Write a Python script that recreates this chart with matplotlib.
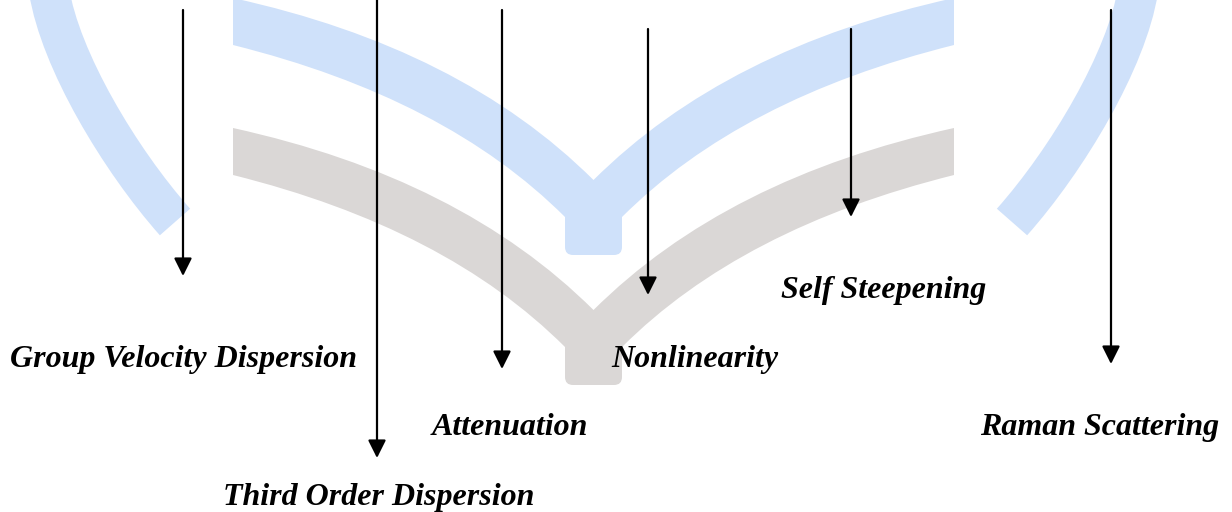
import matplotlib
matplotlib.use("Agg")
import matplotlib.pyplot as plt
from matplotlib.path import Path
from matplotlib.patches import PathPatch

# effects and arrows (pixel coordinates, y grows downwards)
labels = ["Group Velocity Dispersion", "Third Order Dispersion", "Attenuation",
          "Nonlinearity", "Self Steepening", "Raman Scattering"]
arrow_x = [183, 377, 502, 648, 851, 1111]
arrow_top = [10, -5, 10, 29, 29, 10]
arrow_tip = [276, 458, 369, 295, 217, 364]
label_x = [183, 379, 510, 695, 884, 1100]
label_y = [367, 505, 435, 367, 298, 435]

W, H = 1232, 512
fig = plt.figure(figsize=(W / 100, H / 100), dpi=100)
ax = fig.add_axes([0, 0, 1, 1])
ax.set_xlim(0, W)
ax.set_ylim(H, 0)
ax.axis("off")

blue = "#cfe1fa"
gray = "#dad7d6"
axis_c = 593.5


def mx(x):
    return 2 * axis_c - x


# background logo: open book (two V bands) + two side arcs
def book(dy, color):
    verts = [
        (233, 128 + dy), (233, 175 + dy),
        (446, 228 + dy), (565, 347 + dy),
        (565, 377 + dy), (565, 385 + dy), (573, 385 + dy),
        (mx(573), 385 + dy),
        (mx(565), 385 + dy), (mx(565), 377 + dy),
        (mx(565), 347 + dy),
        (mx(446), 228 + dy), (mx(233), 175 + dy),
        (mx(233), 128 + dy),
        (mx(461), 178 + dy), (axis_c, 310 + dy),
        (461, 178 + dy), (233, 128 + dy),
        (233, 128 + dy),
    ]
    codes = [Path.MOVETO, Path.LINETO,
             Path.CURVE3, Path.CURVE3,
             Path.LINETO, Path.CURVE3, Path.CURVE3,
             Path.LINETO,
             Path.CURVE3, Path.CURVE3,
             Path.LINETO,
             Path.CURVE3, Path.CURVE3,
             Path.LINETO,
             Path.CURVE3, Path.CURVE3,
             Path.CURVE3, Path.CURVE3,
             Path.CLOSEPOLY]
    ax.add_patch(PathPatch(Path(verts, codes), facecolor=color, edgecolor="none", zorder=1))


book(0, gray)
book(-130, blue)

right_arc = [(1138, -10), (1127, 60), (1067, 160), (1012, 222)]
left_arc = [(mx(x), y) for x, y in right_arc]
for pts in (right_arc, left_arc):
    p = Path(pts, [Path.MOVETO, Path.CURVE4, Path.CURVE4, Path.CURVE4])
    ax.add_patch(PathPatch(p, facecolor="none", edgecolor=blue, lw=29,
                           capstyle="butt", zorder=1))

# arrows
for x, y0, y1 in zip(arrow_x, arrow_top, arrow_tip):
    ax.annotate("", xy=(x, y1), xytext=(x, y0),
                arrowprops=dict(arrowstyle="-|>", color="black", lw=1.6,
                                mutation_scale=27, shrinkA=0, shrinkB=0),
                zorder=3)

# labels
for t, x, y in zip(labels, label_x, label_y):
    ax.text(x, y, t, ha="center", va="baseline", fontsize=23,
            family="Liberation Serif", fontweight="bold", fontstyle="italic",
            color="black", zorder=4)

fig.savefig("out.png", dpi=100, facecolor="white")
